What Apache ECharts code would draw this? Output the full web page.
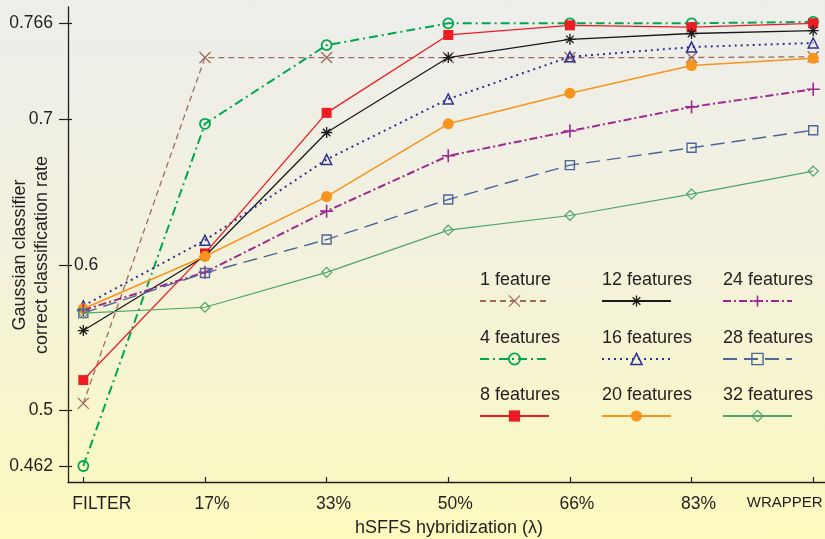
<!DOCTYPE html>
<html><head><meta charset="utf-8">
<script src="https://cdn.jsdelivr.net/npm/echarts@6/dist/echarts.min.js"></script>
<style>html,body{margin:0;padding:0;}
#c{width:825px;height:539px;background:linear-gradient(to bottom,#ededeb 0%,#f2f1de 45%,#fcfabd 100%);}
</style></head><body><div id="c"></div>
<script>
// ---- data ----
const categories = ['FILTER', '17%', '33%', '50%', '66%', '83%', 'WRAPPER'];
const yTickValues = [0.462, 0.5, 0.6, 0.7, 0.766];
const seriesNames = ['1 feature', '4 features', '8 features', '12 features', '16 features', '20 features', '24 features', '28 features', '32 features'];
const f1  = [0.505, 0.7425, 0.7425, 0.7425, 0.7425, 0.7425, 0.743];
const f4  = [0.462, 0.697, 0.751, 0.766, 0.766, 0.766, 0.767];
const f8  = [0.521, 0.608, 0.7045, 0.758, 0.7646, 0.7634, 0.766];
const f12 = [0.555, 0.606, 0.691, 0.7425, 0.755, 0.759, 0.761];
const f16 = [0.572, 0.617, 0.6725, 0.714, 0.743, 0.7497, 0.7525];
const f20 = [0.570, 0.606, 0.647, 0.697, 0.718, 0.737, 0.742];
const f24 = [0.569, 0.595, 0.637, 0.675, 0.692, 0.7086, 0.7207];
const f28 = [0.567, 0.5945, 0.6175, 0.645, 0.6686, 0.6805, 0.6926];
const f32 = [0.567, 0.571, 0.595, 0.624, 0.634, 0.6487, 0.6645];
const seriesValues = [f1, f4, f8, f12, f16, f20, f24, f28, f32];

// ---- styles ----
const FONT = '"Liberation Sans", Arial, Helvetica, sans-serif';
const TXT = '#231f20';
const X_PATH = 'path://M0,0L10,10M10,0L0,10';
const AST_PATH = 'path://M5,0L5,10M0,5L10,5M1.6,1.6L8.4,8.4M8.4,1.6L1.6,8.4';
const PLUS_PATH = 'path://M5,0L5,10M0,5L10,5';
const styles = [
  {color:'#9e6b5e', type:[6,4], width:1.3, symbol:X_PATH, size:11, hollow:true, bw:1.3},
  {color:'#00a651', type:[9,4,2,4], width:2, symbol:'circle', size:10, hollow:true, bw:1.8},
  {color:'#ed1c24', type:'solid', width:1.3, symbol:'rect', size:10, hollow:false, bw:0},
  {color:'#1a1a1a', type:'solid', width:1.3, symbol:AST_PATH, size:11, hollow:true, bw:1.3},
  {color:'#2e3192', type:[2,4], width:2, symbol:'triangle', size:10, hollow:true, bw:1.5},
  {color:'#f7941d', type:'solid', width:1.5, symbol:'circle', size:11, hollow:false, bw:0},
  {color:'#9e2a8e', type:[8,3,2,3], width:2, symbol:PLUS_PATH, size:13, hollow:true, bw:1.6},
  {color:'#4d6699', type:[14,7], width:1.4, symbol:'rect', size:9, hollow:true, bw:1.4},
  {color:'#4fa56b', type:'solid', width:1.2, symbol:'diamond', size:10, hollow:true, bw:1.2}
];
const legendColsX = [479, 601, 722];
const legendRowsY = [301, 359, 416];

const series = seriesNames.map((name, s) => {
  const st = styles[s];
  return {
    name: name, type: 'line', xAxisIndex: 0, yAxisIndex: 0,
    data: categories.map((c, i) => [i, seriesValues[s][i]]),
    symbol: st.symbol, symbolSize: st.size, showAllSymbol: true,
    lineStyle: {color: st.color, width: st.width, type: st.type},
    itemStyle: st.hollow
      ? {color: 'rgba(0,0,0,0)', borderColor: st.color, borderWidth: st.bw}
      : {color: st.color, borderColor: st.color, borderWidth: 0},
    emphasis: {disabled: true},
    z: 2 + s
  };
});

const legends = seriesNames.map((name, s) => {
  const col = Math.floor(s / 3), row = s % 3;
  return {
    data: [name], orient: 'horizontal', padding: 0, itemGap: 0,
    left: legendColsX[col], top: legendRowsY[row] - 31.5,
    itemWidth: 69, itemHeight: 14, selectedMode: false,
    itemStyle: {borderWidth: styles[s].hollow ? styles[s].bw : 0},
    formatter: n => '{t|' + n + '}\n{e| }',
    textStyle: {fontSize: 18, color: TXT, fontFamily: FONT, padding: [0, 0, 0, -74],
      rich: {
        t: {fontSize: 18, color: TXT, fontFamily: FONT, lineHeight: 22, height: 22},
        e: {fontSize: 10, lineHeight: 41, height: 41}
      }}
  };
});

const lbl = {fontSize: 17.5, color: TXT, fontFamily: FONT};
const option = {
  animation: false,
  grid: {left: 68, right: 0, top: 7, bottom: 57, containLabel: false, outerBoundsMode: 'none'},
  legend: legends,
  xAxis: {
    type: 'value', min: -0.126, max: 6.097,
    name: 'hSFFS hybridization (\u03bb)', nameLocation: 'middle', nameGap: 37, nameMoveOverlap: false,
    nameTextStyle: {fontSize: 18, color: TXT, fontFamily: FONT, padding: [0, 0, 0, 5]},
    axisLine: {show: true, onZero: false, lineStyle: {color: TXT, width: 1.3}},
    axisTick: {show: true, inside: true, length: 5, customValues: categories.map((c, i) => i), lineStyle: {color: TXT, width: 1.2}},
    splitLine: {show: false},
    axisLabel: {
      customValues: categories.map((c, i) => i), margin: 13, hideOverlap: false,
      formatter: v => {
        const i = Math.round(v);
        const key = i === 0 ? 'first' : (i === categories.length - 1 ? 'last' : 'mid');
        return '{' + key + '|' + categories[i] + '}';
      },
      rich: {
        first: Object.assign({padding: [0, 0, 0, 37]}, lbl),
        mid: Object.assign({padding: [0, 0, 0, 14]}, lbl),
        last: Object.assign({}, lbl, {fontSize: 15, padding: [0, 57, 0, 0]})
      }
    }
  },
  yAxis: [{
    type: 'value', min: 0.451, max: 0.7772, position: 'left',
    name: 'Gaussian classifier\ncorrect classification rate', nameLocation: 'middle', nameRotate: 90, nameGap: 15.5, nameMoveOverlap: false,
    nameTextStyle: {fontSize: 18, lineHeight: 21.5, color: TXT, fontFamily: FONT, align: 'center', padding: [0, 21, 0, 0]},
    axisLine: {show: true, onZero: false, lineStyle: {color: TXT, width: 1.3}},
    axisTick: {show: true, length: 9, customValues: yTickValues, lineStyle: {color: TXT, width: 1.2}},
    splitLine: {show: false},
    axisLabel: {customValues: yTickValues.filter(v => v !== 0.6), margin: 15, fontSize: 17.5, color: TXT, fontFamily: FONT,
      formatter: v => String(v)}
  }, {
    type: 'value', min: 0.451, max: 0.7772, position: 'left', offset: 0,
    axisLine: {show: false, onZero: false},
    axisTick: {show: true, inside: true, length: 4, customValues: yTickValues, lineStyle: {color: TXT, width: 1.2}},
    splitLine: {show: false},
    axisLabel: {customValues: [0.6], inside: true, margin: 6, fontSize: 17.5, color: TXT, fontFamily: FONT,
      formatter: v => String(v)}
  }],
  series: series
};
const chart = echarts.init(document.getElementById('c'), null, {renderer: 'canvas'});
chart.setOption(option);
</script></body></html>
